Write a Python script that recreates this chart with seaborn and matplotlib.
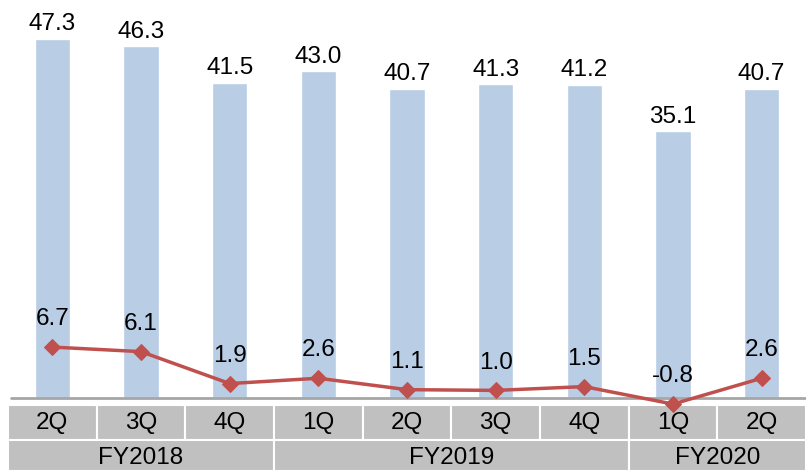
import numpy as np
import seaborn as sns
import matplotlib.pyplot as plt
from matplotlib.patches import Rectangle

# Chart data
quarters = ['2Q', '3Q', '4Q', '1Q', '2Q', '3Q', '4Q', '1Q', '2Q']
fiscal_years = ['FY2018', 'FY2019', 'FY2020']
fy_spans = [3, 4, 2]
bar_values = [47.3, 46.3, 41.5, 43.0, 40.7, 41.3, 41.2, 35.1, 40.7]
line_values = [6.7, 6.1, 1.9, 2.6, 1.1, 1.0, 1.5, -0.8, 2.6]

sns.set_style('white')
plt.rcParams['font.family'] = ['Liberation Sans', 'DejaVu Sans']
plt.rcParams['text.color'] = 'black'

bar_color = '#B9CDE5'
line_color = '#C0504D'
cell_color = '#C0C0C0'
fs = 17.5

fig = plt.figure(figsize=(8.06, 4.71), dpi=100)

# category table below the plot
tab = fig.add_axes([8 / 806, 0, 798 / 806, 66 / 471])
tab.set_xlim(-0.5, len(bar_values) - 0.5)
tab.set_ylim(0, 66)
tab.axis('off')
for i, q in enumerate(quarters):
    tab.add_patch(Rectangle((i - 0.5, 31), 1, 35, facecolor=cell_color,
                            edgecolor='white', lw=1.5))
    tab.text(i, 48.5, q, ha='center', va='center', fontsize=fs)
start = 0
for fy, span in zip(fiscal_years, fy_spans):
    tab.add_patch(Rectangle((start - 0.5, 0), span, 31, facecolor=cell_color,
                            edgecolor='white', lw=1.5))
    tab.text(start - 0.5 + span / 2, 13, fy, ha='center', va='center', fontsize=fs)
    start += span

ax = fig.add_axes([8 / 806, 66 / 471, 798 / 806, 405 / 471])
ax.set_zorder(3)
ax.patch.set_visible(False)

pos = np.arange(len(bar_values))
sns.barplot(x=pos, y=bar_values, color=bar_color, width=0.4, ax=ax,
            saturation=1, native_scale=True)
sns.lineplot(x=pos, y=line_values, color=line_color, lw=2.5, marker='D',
             markersize=8.5, markeredgecolor=line_color, ax=ax, clip_on=False,
             zorder=5)

ax.axhline(0, color='#A6A6A6', lw=2, zorder=3, xmin=3 / 798)

for i, v in enumerate(bar_values):
    ax.annotate(f'{v:.1f}', (i, v), xytext=(0, 10.5), textcoords='offset points',
                ha='center', va='center', fontsize=fs)
for i, v in enumerate(line_values):
    ax.annotate(f'{v:.1f}', (i, v), xytext=(0, 20), textcoords='offset points',
                ha='center', va='center', fontsize=fs)

ax.set_xlim(-0.5, len(bar_values) - 0.5)
ax.set_ylim(-7 / 7.6, 398 / 7.6)
ax.axis('off')

fig.savefig('out.png', dpi=100)
